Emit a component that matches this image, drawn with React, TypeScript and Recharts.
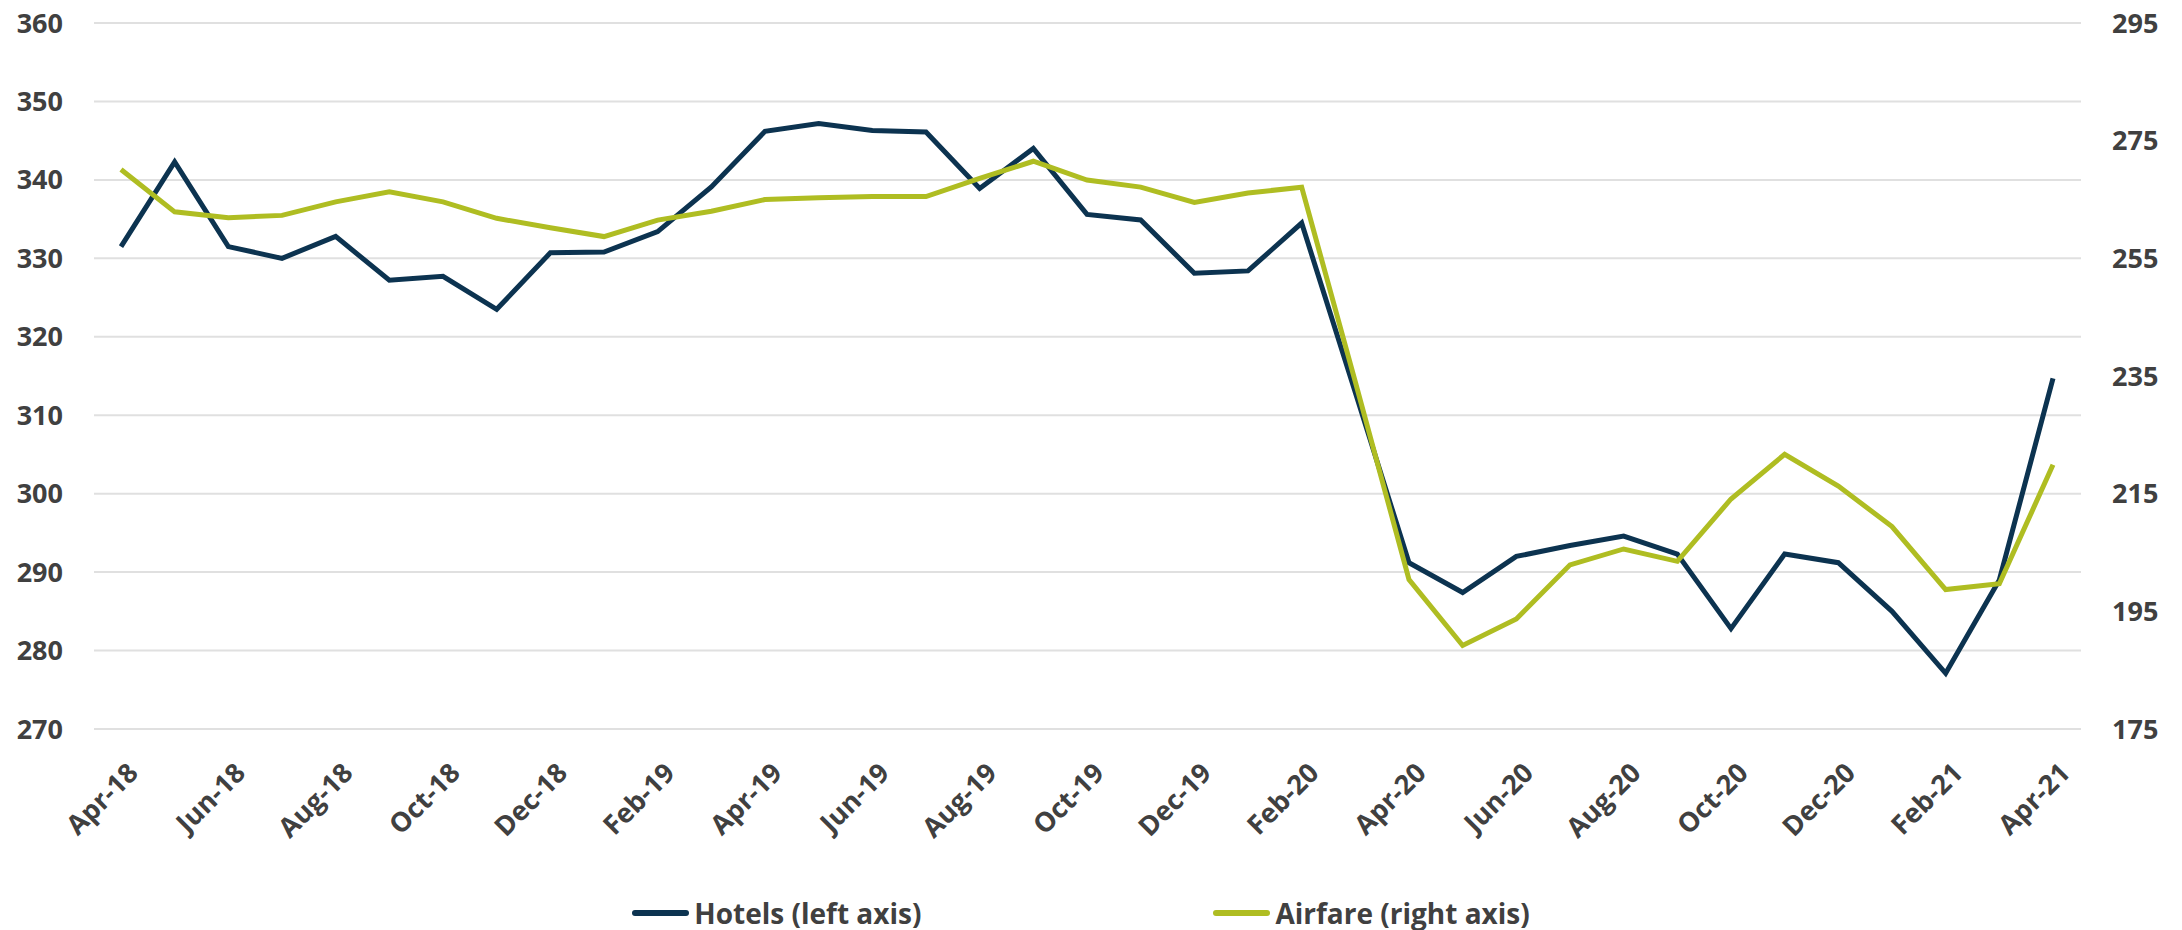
import { CartesianGrid, Legend, Line, LineChart, XAxis, YAxis } from "recharts";

const MONTHS = [
  "Apr-18", "May-18", "Jun-18", "Jul-18", "Aug-18", "Sep-18", "Oct-18", "Nov-18", "Dec-18",
  "Jan-19", "Feb-19", "Mar-19", "Apr-19", "May-19", "Jun-19", "Jul-19", "Aug-19", "Sep-19",
  "Oct-19", "Nov-19", "Dec-19", "Jan-20", "Feb-20", "Mar-20", "Apr-20", "May-20", "Jun-20",
  "Jul-20", "Aug-20", "Sep-20", "Oct-20", "Nov-20", "Dec-20", "Jan-21", "Feb-21", "Mar-21", "Apr-21",
];

const HOTELS = [
  331.5, 342.3, 331.5, 330.0, 332.8, 327.2, 327.7, 323.5, 330.7,
  330.8, 333.4, 339.1, 346.2, 347.2, 346.3, 346.1, 338.9, 344.0,
  335.6, 334.9, 328.1, 328.4, 334.5, 312.9, 291.2, 287.4, 292.0,
  293.4, 294.6, 292.3, 282.8, 292.3, 291.2, 285.0, 277.1, 289.0, 314.7,
];

const AIRFARE = [
  270.1, 262.9, 261.9, 262.3, 264.6, 266.3, 264.6, 261.8, 260.2,
  258.7, 261.5, 263.0, 265.0, 265.3, 265.5, 265.5, 268.6, 271.5,
  268.3, 267.1, 264.5, 266.1, 267.1, 234.0, 200.4, 189.2, 193.7,
  202.9, 205.6, 203.5, 214.1, 221.7, 216.3, 209.4, 198.7, 199.7, 219.9,
];

const LEFT_TICKS = [270, 280, 290, 300, 310, 320, 330, 340, 350, 360];
const RIGHT_TICKS = [175, 195, 215, 235, 255, 275, 295];

const NAVY = "#0c3350";
const LIME = "#afbd22";
const TEXT = "#404040";
const FONT = "'Open Sans', sans-serif";

const data = MONTHS.map((m, i) => ({ month: m, hotels: HOTELS[i], airfare: AIRFARE[i] }));

const legendItems = [
  { label: "Hotels (left axis)", color: NAVY },
  { label: "Airfare (right axis)", color: LIME },
];

function MonthTick({ x, y, payload }: any) {
  return (
    <g transform={`translate(${x + 12},${y + 39})`}>
      <text textAnchor="end" dy="0.35em" transform="rotate(-45)"
        fill={TEXT} fontSize={27} fontWeight={700} fontFamily={FONT}>
        {payload.value}
      </text>
    </g>
  );
}

function LegendBox() {
  return (
    <div style={{ display: "flex", justifyContent: "center", gap: 292, height: 34, alignItems: "center" }}>
      {legendItems.map((it) => (
        <div key={it.label} style={{ display: "flex", alignItems: "center", gap: 5 }}>
          <span style={{ width: 57, height: 6, borderRadius: 3, background: it.color, display: "inline-block" }} />
          <span style={{ fontFamily: FONT, fontWeight: 700, fontSize: 28, color: TEXT, lineHeight: "34px" }}>
            {it.label}
          </span>
        </div>
      ))}
    </div>
  );
}

export default function App() {
  const tickStyle = { fill: TEXT, fontSize: 27, fontWeight: 700, fontFamily: FONT };
  return (
    <div style={{ position: "absolute", left: 0, top: 0, background: "#fff" }}>
      <LineChart width={2182} height={930} data={data} margin={{ top: 23, right: 20, bottom: 0, left: 0 }}>
        <CartesianGrid yAxisId="left" vertical={false} stroke="#e0e0e0" strokeWidth={2} />
        <XAxis dataKey="month" interval={1} tickSize={0} tickMargin={0} height={167}
          axisLine={false} tickLine={false} padding={{ left: 27, right: 28 }} tick={<MonthTick />} />
        <YAxis yAxisId="left" domain={[270, 360]} ticks={LEFT_TICKS} width={94}
          axisLine={false} tickLine={false} tickSize={0} tickMargin={31} tick={tickStyle} />
        <YAxis yAxisId="right" orientation="right" domain={[175, 295]} ticks={RIGHT_TICKS} width={81}
          axisLine={false} tickLine={false} tickSize={0} tickMargin={31} tick={tickStyle} />
        <Legend verticalAlign="bottom" content={<LegendBox />} />
        <Line yAxisId="left" dataKey="hotels" name="Hotels (left axis)" stroke={NAVY} strokeWidth={5}
          dot={false} isAnimationActive={false} strokeLinejoin="miter" />
        <Line yAxisId="right" dataKey="airfare" name="Airfare (right axis)" stroke={LIME} strokeWidth={5}
          dot={false} isAnimationActive={false} strokeLinejoin="miter" />
      </LineChart>
    </div>
  );
}
